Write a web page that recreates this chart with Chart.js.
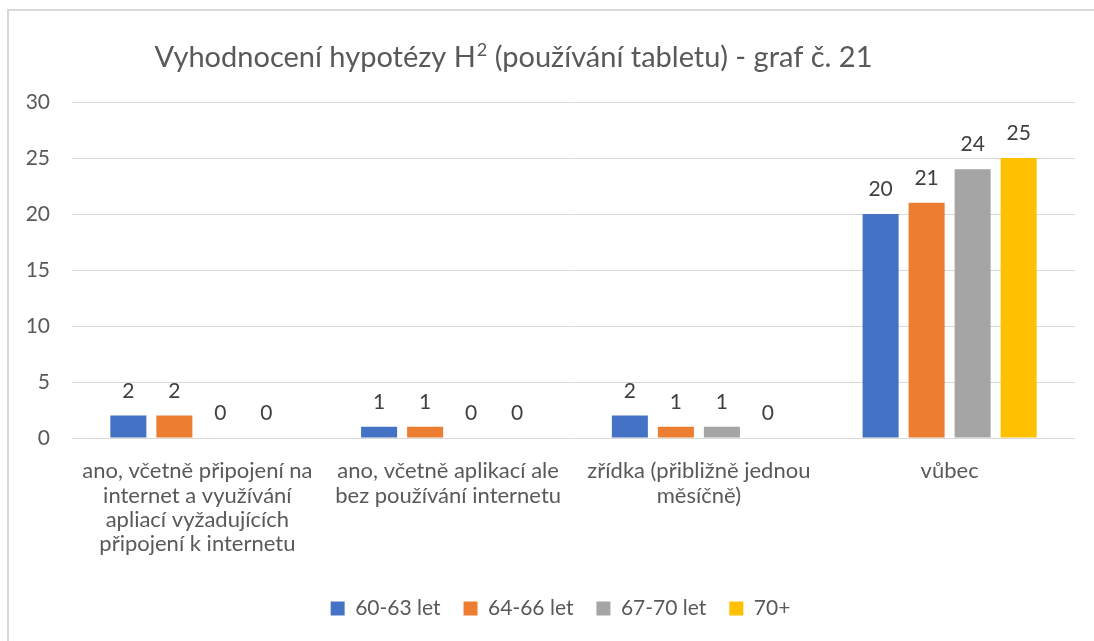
<!DOCTYPE html>
<html>
<head>
<meta charset="utf-8">
<script src="https://cdn.jsdelivr.net/npm/chart.js@4/dist/chart.umd.min.js"></script>
<style>
html,body{margin:0;padding:0;background:#fff;}
#wrap{width:1094px;height:641px;position:relative;}
</style>
</head>
<body>
<div id="wrap"><canvas id="c" width="1094" height="641"></canvas></div>
<script>
const titleMain = "Vyhodnocení hypotézy H";
const titleSup = "2";
const titleRest = " (používání tabletu) - graf č. 21";

const categories = [
  ["ano, včetně připojení na", "internet a využívání", "apliací vyžadujících", "připojení k internetu"],
  ["ano, včetně aplikací ale", "bez používání internetu"],
  ["zřídka (přibližně jednou", "měsíčně)"],
  ["vůbec"]
];
const seriesNames = ["60-63 let", "64-66 let", "67-70 let", "70+"];
const s6063 = [2, 1, 2, 20];
const s6466 = [2, 1, 1, 21];
const s6770 = [0, 0, 1, 24];
const s70plus = [0, 0, 0, 25];
const yTicks = [0, 5, 10, 15, 20, 25, 30];

const colors = ["#4472C4", "#ED7D31", "#A5A5A5", "#FFC000"];
const FONT = "Lato, 'Open Sans', sans-serif";

const frameAndTitle = {
  id: 'frameAndTitle',
  afterLayout(chart) {
    if (chart.legend) {
      chart.legend.left += 23;
      chart.legend.right += 23;
    }
  },
  beforeDraw(chart) {
    const ctx = chart.ctx;
    ctx.save();
    ctx.fillStyle = '#fff';
    ctx.fillRect(0, 0, chart.width, chart.height);
    ctx.strokeStyle = '#d9d9d9';
    ctx.lineWidth = 2;
    ctx.beginPath();
    ctx.moveTo(8, chart.height);
    ctx.lineTo(8, 10);
    ctx.lineTo(chart.width, 10);
    ctx.stroke();
    ctx.restore();
  },
  afterDraw(chart) {
    const ctx = chart.ctx;
    ctx.save();
    ctx.fillStyle = '#595959';
    ctx.textBaseline = 'alphabetic';
    ctx.textAlign = 'left';
    const big = "29px " + FONT, small = "18px " + FONT;
    ctx.font = big;
    const w1 = ctx.measureText(titleMain).width;
    const w3 = ctx.measureText(titleRest).width;
    ctx.font = small;
    const w2 = ctx.measureText(titleSup).width;
    const total = w1 + w2 + w3;
    let x = 513 - total / 2;
    const y = 67;
    ctx.font = big;
    ctx.fillText(titleMain, x, y); x += w1;
    ctx.font = small;
    ctx.fillText(titleSup, x + 1, y - 11); x += w2 + 1;
    ctx.font = big;
    ctx.fillText(titleRest, x, y);
    ctx.restore();
  }
};

const dataLabels = {
  id: 'dataLabels',
  afterDatasetsDraw(chart) {
    const ctx = chart.ctx;
    ctx.save();
    ctx.font = "21px " + FONT;
    ctx.fillStyle = '#404040';
    ctx.textAlign = 'center';
    ctx.textBaseline = 'alphabetic';
    chart.data.datasets.forEach((ds, i) => {
      const meta = chart.getDatasetMeta(i);
      meta.data.forEach((bar, j) => {
        ctx.fillText(String(ds.data[j]), bar.x, bar.y - 18);
      });
    });
    ctx.restore();
  }
};

const seriesData = [s6063, s6466, s6770, s70plus];

new Chart(document.getElementById('c'), {
  type: 'bar',
  data: {
    labels: categories,
    datasets: seriesNames.map((n, i) => ({
      label: n,
      data: seriesData[i],
      backgroundColor: colors[i],
      borderWidth: 0,
      categoryPercentage: 0.734,
      barPercentage: 0.783
    }))
  },
  options: {
    responsive: false,
    animation: false,
    devicePixelRatio: 1,
    layout: { padding: { top: 102, right: 19, bottom: 12, left: 0 } },
    plugins: {
      title: { display: false },
      tooltip: { enabled: false },
      legend: {
        position: 'bottom',
        labels: {
          font: { family: FONT, size: 21 },
          color: '#595959',
          boxWidth: 14,
          boxHeight: 14,
          padding: 23
        }
      }
    },
    scales: {
      x: {
        grid: { display: false, drawTicks: false },
        border: { display: false },
        ticks: {
          font: { family: FONT, size: 22, lineHeight: 1.105 },
          color: '#595959',
          maxRotation: 0,
          minRotation: 0,
          autoSkip: false,
          padding: 21
        },
        afterFit(scale) { scale.height = 137; }
      },
      y: {
        min: 0,
        max: 30,
        afterBuildTicks(scale) { scale.ticks = yTicks.map(v => ({ value: v })); },
        grid: { color: '#d9d9d9', lineWidth: 1, drawTicks: false },
        border: { display: false },
        ticks: {
          font: { family: FONT, size: 21 },
          color: '#595959',
          padding: 22
        },
        afterFit(scale) { scale.width = 72; }
      }
    }
  },
  plugins: [frameAndTitle, dataLabels]
});
</script>
</body>
</html>
